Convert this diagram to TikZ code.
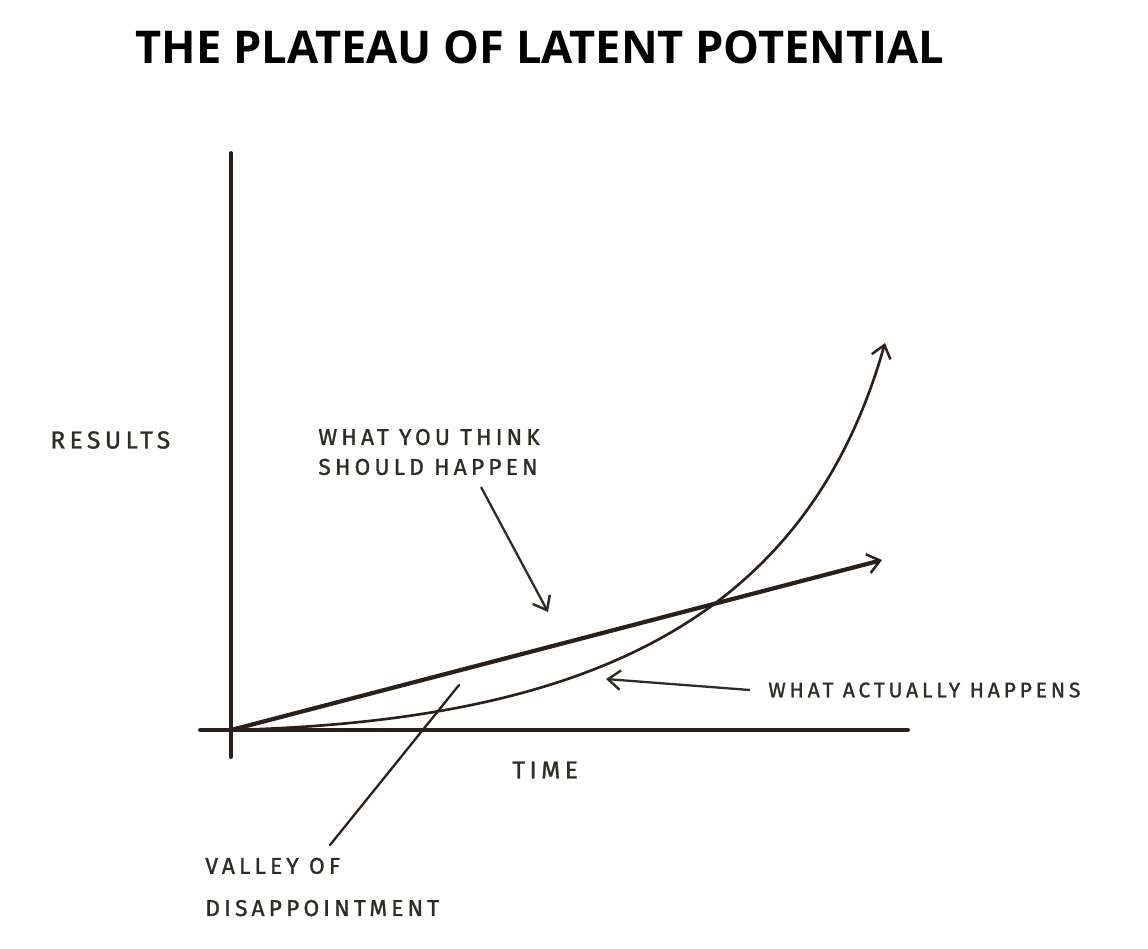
\documentclass[tikz,border=0pt]{standalone}
\usepackage{fontspec}
\setmainfont{Fira Sans}
\newfontfamily\titlefont{Open Sans}
\newfontfamily\handfont[LetterSpace=18, FakeBold=1.2]{Fira Sans}
\usepackage{tikz}
\usetikzlibrary{arrows.meta, positioning, calc}
\usepackage{xcolor}
\definecolor{ink}{HTML}{2B1F1A}
\definecolor{pencil}{HTML}{2E2D25}

\begin{document}
\begin{tikzpicture}[x=0.02cm, y=-0.02cm,
  axis/.style={draw=ink, line width=2.2pt, line cap=round},
  hand/.style={text=pencil, font=\handfont\fontsize{14}{16}\selectfont, align=left, inner sep=0pt, anchor=west},
  barb/.style={-{Straight Barb[length=7pt, width=11pt, line width=1.4pt]}}]

 \useasboundingbox (0,0) rectangle (1148,948);

 % Title
 \node[font=\titlefont\bfseries\fontsize{25.7}{30}\selectfont] (title) at (540,47) {THE PLATEAU OF LATENT POTENTIAL};

 % Axis points
 \coordinate (origin) at (231,730);
 \coordinate (ytop) at (231,153);
 \coordinate (ybot) at (231,757);
 \coordinate (xleft) at (200,730);
 \coordinate (xright) at (908,730);
 \coordinate (lintip) at (882,560);
 \coordinate (exptip) at (885,343);

 % Labels
 \node[hand] (results) at (50,440) {RESULTS};
 \node[hand, font=\handfont\fontsize{13}{17}\selectfont] (think) at (318,452) {WHAT YOU THINK\\SHOULD HAPPEN};
 \node[hand, font=\handfont\fontsize{12}{14}\selectfont] (actual) at (768,690) {WHAT ACTUALLY HAPPENS};
 \node[hand] (time) at (512,770) {TIME};
 \node[hand, font=\handfont\fontsize{13}{24}\selectfont] (valley) at (205,887) {VALLEY OF\\DISAPPOINTMENT};

 % Label ends
 \coordinate (think-from) at (481,487);
 \coordinate (think-to) at (548,612);
 \coordinate (actual-from) at (750,690);
 \coordinate (actual-to) at (606,679);
 \coordinate (valley-from) at (330,845);
 \coordinate (valley-to) at (459,685);

 % Axes
 \draw[axis] (ytop) -- (ybot);
 \draw[axis] (xleft) -- (xright);

 % Expected and actual
 \draw[ink, line width=2.4pt, barb] (origin) -- (lintip);
 \draw[ink, line width=1.5pt, barb] (origin) .. controls (580,721) and (805,625) .. (exptip);

 % Pointers
 \draw[pencil, line width=1.3pt, barb] (think-from) -- (think-to);
 \draw[pencil, line width=1.3pt, barb] (actual-from) -- (actual-to);
 \draw[ink, line width=1.3pt, line cap=round] (valley-from) -- (valley-to);

\end{tikzpicture}
\end{document}
